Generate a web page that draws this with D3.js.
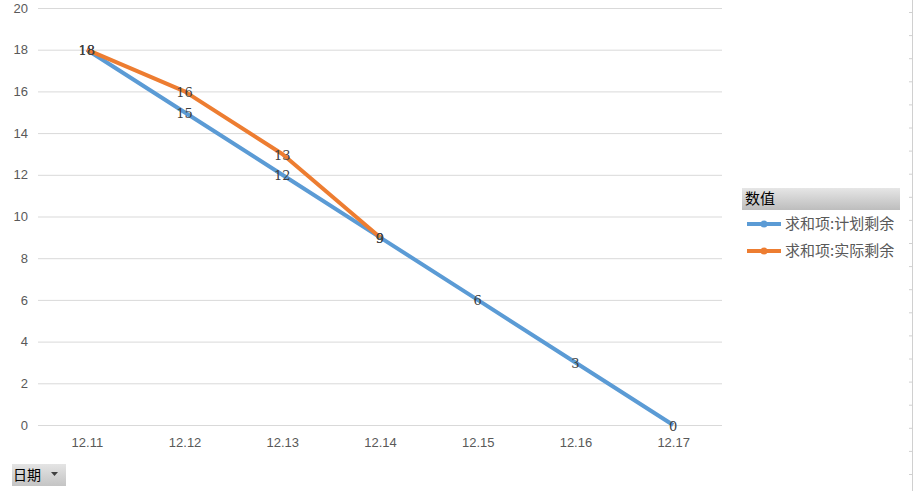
<!DOCTYPE html>
<html>
<head>
<meta charset="utf-8">
<script src="https://cdn.jsdelivr.net/npm/d3@7"></script>
<style>
  body { margin: 0; background: #fff; }
  svg { display: block; }
</style>
</head>
<body>
<script>
// data
var dates = ["12.11", "12.12", "12.13", "12.14", "12.15", "12.16", "12.17"];
var planned = [18, 15, 12, 9, 6, 3, 0];
var actual = [18, 16, 13, 9];
var seriesNames = ["求和项:计划剩余", "求和项:实际剩余"];
var colors = ["#5B9BD5", "#ED7D31"];
var yTicks = [0, 2, 4, 6, 8, 10, 12, 14, 16, 18, 20];

var width = 915, height = 491;
var plot = {left: 38, right: 722, top: 8, bottom: 425};

var svg = d3.select("body").append("svg")
    .attr("width", width)
    .attr("height", height);

var x = d3.scalePoint().domain(dates)
    .range([plot.left, plot.right]).padding(0.5);
var y = d3.scaleLinear().domain([0, 20]).range([plot.bottom, plot.top]);

// gridlines + y axis labels
var yAxis = svg.append("g")
    .attr("transform", "translate(" + plot.left + ",0)")
    .call(d3.axisLeft(y).tickValues(yTicks).tickSize(-(plot.right - plot.left)).tickPadding(10));
yAxis.select(".domain").remove();
yAxis.selectAll(".tick line").attr("stroke", "#d9d9d9");
yAxis.selectAll(".tick text")
    .attr("fill", "#595959")
    .style("font", "13px 'Liberation Sans', Arial, sans-serif");

// x axis labels
var xAxis = svg.append("g")
    .attr("transform", "translate(0," + plot.bottom + ")")
    .call(d3.axisBottom(x).tickSize(0).tickPadding(13));
xAxis.select(".domain").remove();
xAxis.selectAll(".tick text")
    .attr("fill", "#595959")
    .style("font", "13px 'Liberation Sans', Arial, sans-serif");

var line = d3.line()
    .x(function(d, i) { return x(dates[i]); })
    .y(function(d) { return y(d); });

var allSeries = [planned, actual];
allSeries.forEach(function(s, k) {
  svg.append("path")
      .datum(s)
      .attr("fill", "none")
      .attr("stroke", colors[k])
      .attr("stroke-width", 4)
      .attr("stroke-linejoin", "round")
      .attr("d", line);
});

// data labels
allSeries.forEach(function(s) {
  svg.append("g").selectAll("text")
      .data(s)
      .enter().append("text")
      .attr("x", function(d, i) { return x(dates[i]); })
      .attr("y", function(d) { return y(d) + 1; })
      .attr("dy", "0.35em")
      .attr("text-anchor", "middle")
      .attr("fill", "#404040")
      .style("font", "13px 'DejaVu Serif', serif")
      .text(function(d) { return d; });
});

// legend
var defs = svg.append("defs");
var grad = defs.append("linearGradient").attr("id", "hdr")
    .attr("x1", 0).attr("y1", 0).attr("x2", 0).attr("y2", 1);
grad.append("stop").attr("offset", "0%").attr("stop-color", "#e6e6e6");
grad.append("stop").attr("offset", "100%").attr("stop-color", "#bdbdbd");

var legend = svg.append("g");
legend.append("rect")
    .attr("x", 742).attr("y", 188).attr("width", 158).attr("height", 22)
    .attr("fill", "url(#hdr)");
legend.append("text")
    .attr("x", 745).attr("y", 199).attr("dy", "0.35em")
    .attr("fill", "#000")
    .style("font", "15px 'Noto Sans CJK SC', sans-serif")
    .text("数值");

seriesNames.forEach(function(name, k) {
  var yy = 224 + k * 27;
  legend.append("line")
      .attr("x1", 747).attr("x2", 781).attr("y1", yy).attr("y2", yy)
      .attr("stroke", colors[k]).attr("stroke-width", 4);
  legend.append("circle")
      .attr("cx", 764).attr("cy", yy).attr("r", 3.5)
      .attr("fill", colors[k]);
  legend.append("text")
      .attr("x", 785).attr("y", yy).attr("dy", "0.35em")
      .attr("fill", "#595959")
      .style("font", "15px 'Noto Sans CJK SC', sans-serif")
      .text(name);
});

// sheet edge on the right
var edge = svg.append("g");
edge.append("line")
    .attr("x1", 912.5).attr("x2", 912.5).attr("y1", 0).attr("y2", height)
    .attr("stroke", "#d0d0d0");
edge.selectAll("line.t")
    .data(d3.range(0, 21))
    .enter().append("line")
    .attr("class", "t")
    .attr("x1", 909).attr("x2", 913)
    .attr("y1", function(d) { return 12.5 + d * 23.1; })
    .attr("y2", function(d) { return 12.5 + d * 23.1; })
    .attr("stroke", "#d0d0d0");

// field button
var btnGrad = defs.append("linearGradient").attr("id", "btn")
    .attr("x1", 0).attr("y1", 0).attr("x2", 0).attr("y2", 1);
btnGrad.append("stop").attr("offset", "0%").attr("stop-color", "#e4e4e4");
btnGrad.append("stop").attr("offset", "100%").attr("stop-color", "#c4c4c4");

var btn = svg.append("g");
btn.append("rect")
    .attr("x", 12).attr("y", 464).attr("width", 54).attr("height", 22)
    .attr("fill", "url(#btn)");
btn.append("text")
    .attr("x", 13).attr("y", 475).attr("dy", "0.35em")
    .attr("fill", "#000")
    .style("font", "14px 'Noto Sans CJK SC', sans-serif")
    .text("日期");
btn.append("path")
    .attr("d", "M51,472 L58,472 L54.5,476 Z")
    .attr("fill", "#404040");
</script>
</body>
</html>
